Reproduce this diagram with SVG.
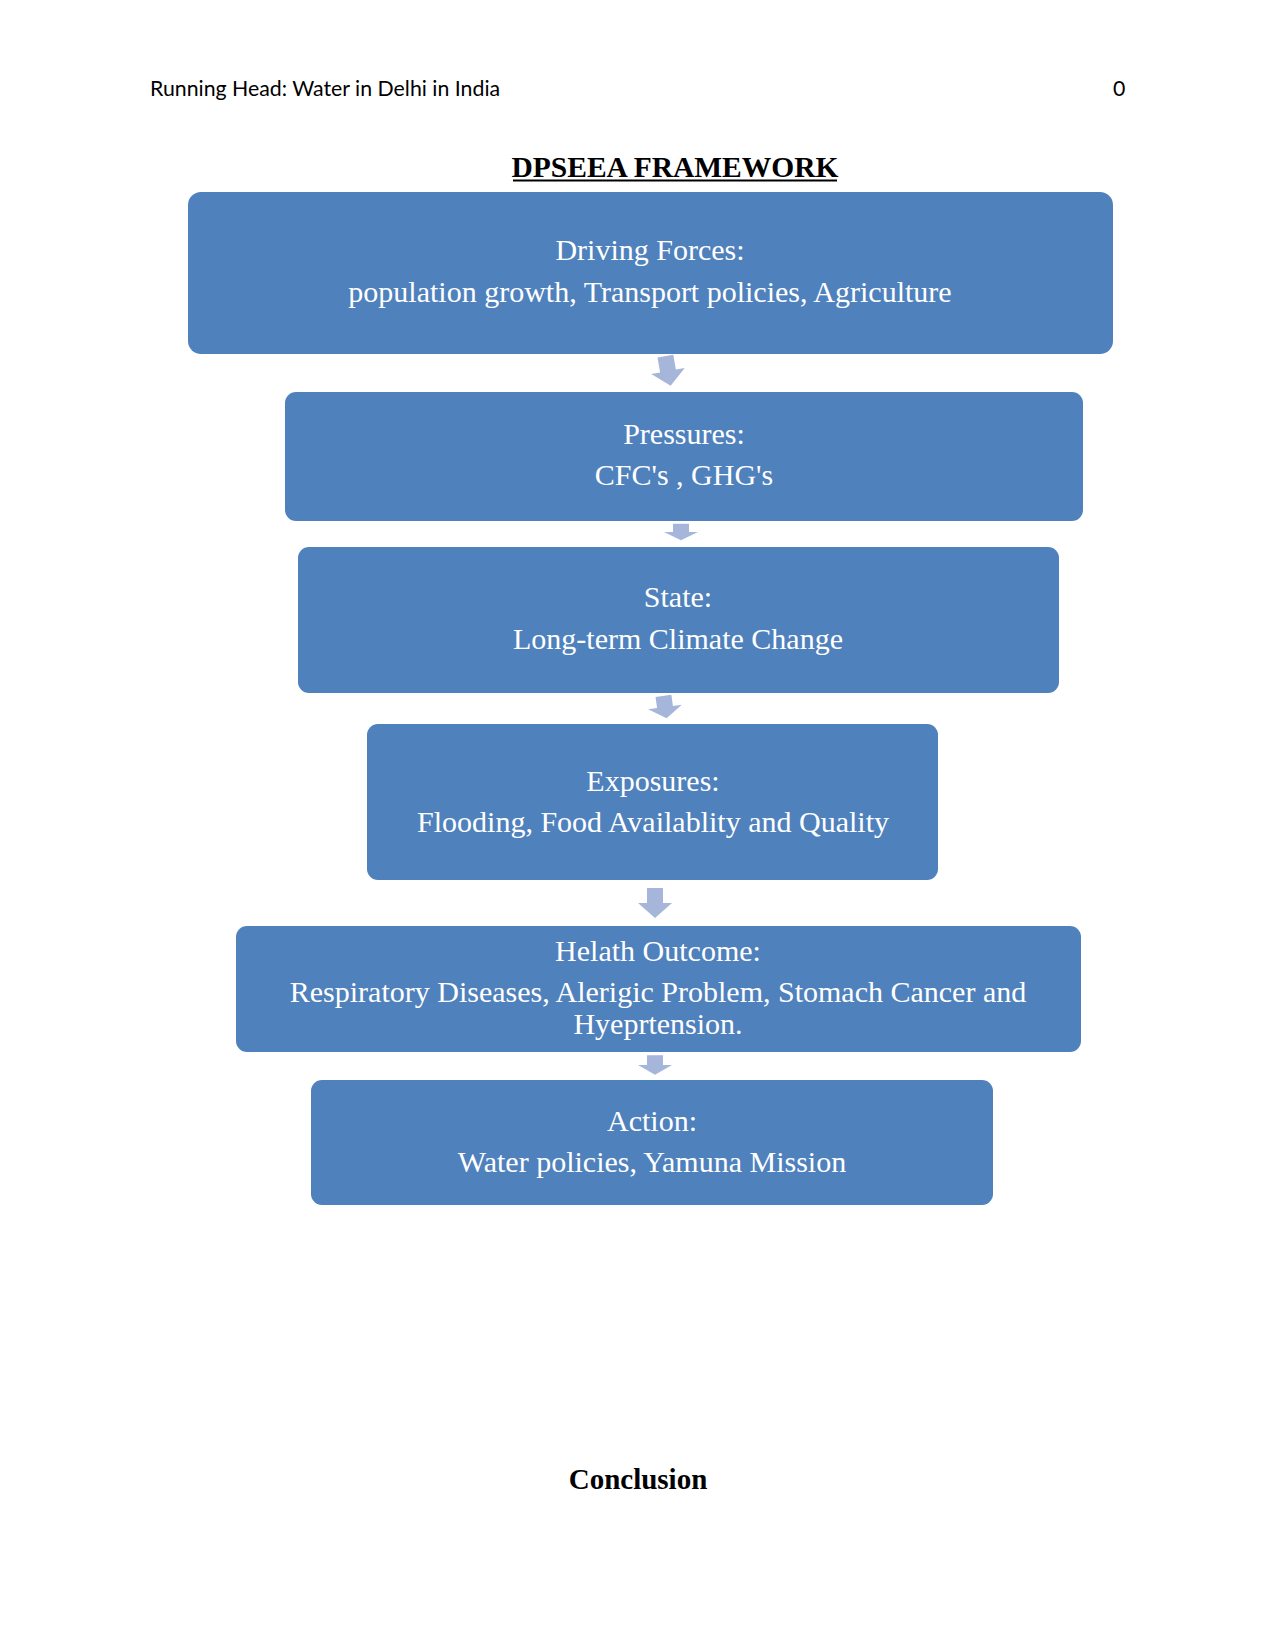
<svg xmlns="http://www.w3.org/2000/svg" width="1275" height="1651" viewBox="0 0 1275 1651">
<style>
.box{fill:#4F81BD;}
.arr{fill:#A6B6DA;}
.t{font-family:"Liberation Serif","Times New Roman",serif;font-size:30px;fill:#FFFFFF;text-anchor:middle;}
.hd{font-family:Lato,"Liberation Sans",sans-serif;font-size:21.3px;fill:#000;}
.ti{font-family:"Liberation Serif","Times New Roman",serif;font-weight:bold;fill:#000;text-anchor:middle;}
</style>
<defs>
<path id="dn" d="M-8,-15 L8,-15 L8,0 L17,0 L0,15 L-17,0 L-8,0 Z"/>
</defs>
<rect width="1275" height="1651" fill="#FFFFFF"/>
<text class="hd" x="150" y="96">Running Head: Water in Delhi in India</text>
<text class="hd" x="1113" y="96">0</text>
<text class="ti" x="675" y="177" font-size="29.5">DPSEEA FRAMEWORK</text>
<line x1="513" y1="180.5" x2="837" y2="180.5" stroke="#000" stroke-width="2"/>
<g id="connectors">
<use href="#dn" class="arr" transform="translate(668,371) rotate(-10)"/>
<use href="#dn" class="arr" transform="translate(681,532) scale(1,0.55)"/>
<use href="#dn" class="arr" transform="translate(665,707) rotate(-8) scale(1,0.75)"/>
<use href="#dn" class="arr" transform="translate(655,903)"/>
<use href="#dn" class="arr" transform="translate(655,1065) scale(1,0.65)"/>
</g>
<g id="driving">
<rect class="box" x="188" y="192" width="925" height="162" rx="13"/>
<text class="t" x="650" y="260">Driving Forces:</text>
<text class="t" x="650" y="302">population growth, Transport policies, Agriculture</text>
</g>
<g id="pressures">
<rect class="box" x="285" y="392" width="798" height="129" rx="11"/>
<text class="t" x="684" y="444">Pressures:</text>
<text class="t" x="684" y="485">CFC's , GHG's</text>
</g>
<g id="state">
<rect class="box" x="298" y="547" width="761" height="146" rx="11"/>
<text class="t" x="678" y="607">State:</text>
<text class="t" x="678" y="649">Long-term Climate Change</text>
</g>
<g id="exposures">
<rect class="box" x="367" y="724" width="571" height="156" rx="11"/>
<text class="t" x="653" y="791">Exposures:</text>
<text class="t" x="653" y="832">Flooding, Food Availablity and Quality</text>
</g>
<g id="health">
<rect class="box" x="236" y="926" width="845" height="126" rx="11"/>
<text class="t" x="658" y="961">Helath Outcome:</text>
<text class="t" x="658" y="1002">Respiratory Diseases, Alerigic Problem, Stomach Cancer and</text>
<text class="t" x="658" y="1034">Hyeprtension.</text>
</g>
<g id="action">
<rect class="box" x="311" y="1080" width="682" height="125" rx="11"/>
<text class="t" x="652" y="1131">Action:</text>
<text class="t" x="652" y="1172">Water policies, Yamuna Mission</text>
</g>
<text class="ti" x="638" y="1489" font-size="29">Conclusion</text>
</svg>
